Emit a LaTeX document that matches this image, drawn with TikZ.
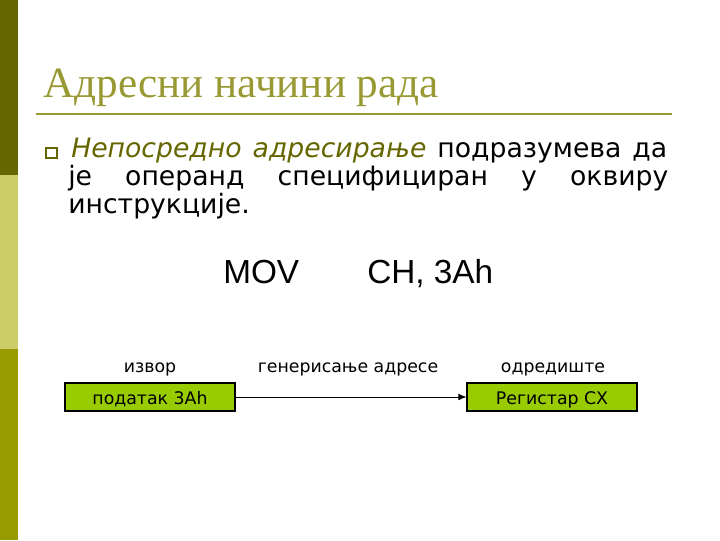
\documentclass[tikz,border=0pt]{standalone}
\usepackage{fontspec}
\setmainfont{DejaVu Sans}
\newfontfamily\titlefont{Liberation Serif}
\newfontfamily\movfont{Liberation Sans}
\usetikzlibrary{arrows.meta}
\definecolor{barA}{HTML}{666600}
\definecolor{barB}{HTML}{CCCC66}
\definecolor{barC}{HTML}{999900}
\definecolor{titlecol}{HTML}{999933}
\definecolor{boxfill}{HTML}{99CC00}
\tikzset{
  bodytxt/.style={inner sep=0pt, font=\fontsize{20pt}{24pt}\selectfont},
  smalltxt/.style={inner sep=0pt, font=\fontsize{13pt}{16pt}\selectfont},
  greenbox/.style={draw=black, line width=0.8pt, fill=boxfill, minimum width=127.5pt, minimum height=21pt, inner sep=0pt},
}
\begin{document}
\begin{tikzpicture}[x=0.75pt,y=-0.75pt]
\useasboundingbox (0,0) rectangle (720,540);
\fill[white] (0,0) rectangle (720,540);
% side bar
\fill[barA] (0,0) rectangle (18,175);
\fill[barB] (0,175) rectangle (18,349);
\fill[barC] (0,349) rectangle (18,540);
% title
\node[anchor=base west, inner sep=0pt, text=titlecol, font=\titlefont\fontsize{32.4pt}{36pt}\selectfont] (title) at (43,97) {Адресни начини рада};
\coordinate (ulA) at (36,114);
\coordinate (ulB) at (672,114);
\draw[titlecol, line width=1.6pt] (ulA) -- (ulB);
% bullet
\node[draw=barA, line width=1.6pt, minimum size=8pt, inner sep=0pt] (bullet) at (51.5,153) {};
% body text
\node[bodytxt, anchor=base west] (l1) at (71,157) {\makebox[447pt][s]{\textcolor{barA}{\itshape Непосредно адресирање} подразумева да}};
\node[bodytxt, anchor=base west] (l2) at (68,185) {\makebox[450pt][s]{је операнд специфициран у оквиру}};
\node[bodytxt, anchor=base west] (l3) at (68,213) {инструкције.};
% instruction
\node[inner sep=0pt, anchor=base west, font=\movfont\fontsize{25pt}{28pt}\selectfont] (mov) at (223,283) {MOV};
\node[inner sep=0pt, anchor=base west, font=\movfont\fontsize{25pt}{28pt}\selectfont] (ops) at (367,283) {CH, 3Ah};
% labels
\node[smalltxt, anchor=base] (src) at (150,372) {извор};
\node[smalltxt, anchor=base] (gen) at (348,372) {генерисање адресе};
\node[smalltxt, anchor=base] (dst) at (553,372) {одредиште};
% boxes
\node[greenbox] (data) at (150,397) {};
\node[greenbox] (reg) at (552,397) {};
\node[smalltxt, anchor=base] (datatxt) at (150,404) {податак 3Ah};
\node[smalltxt, anchor=base] (regtxt) at (552,404) {Регистар CX};
\draw[-{Latex[length=6pt,width=5pt]}, line width=0.6pt] (data.east) -- (reg.west);
\end{tikzpicture}
\end{document}
